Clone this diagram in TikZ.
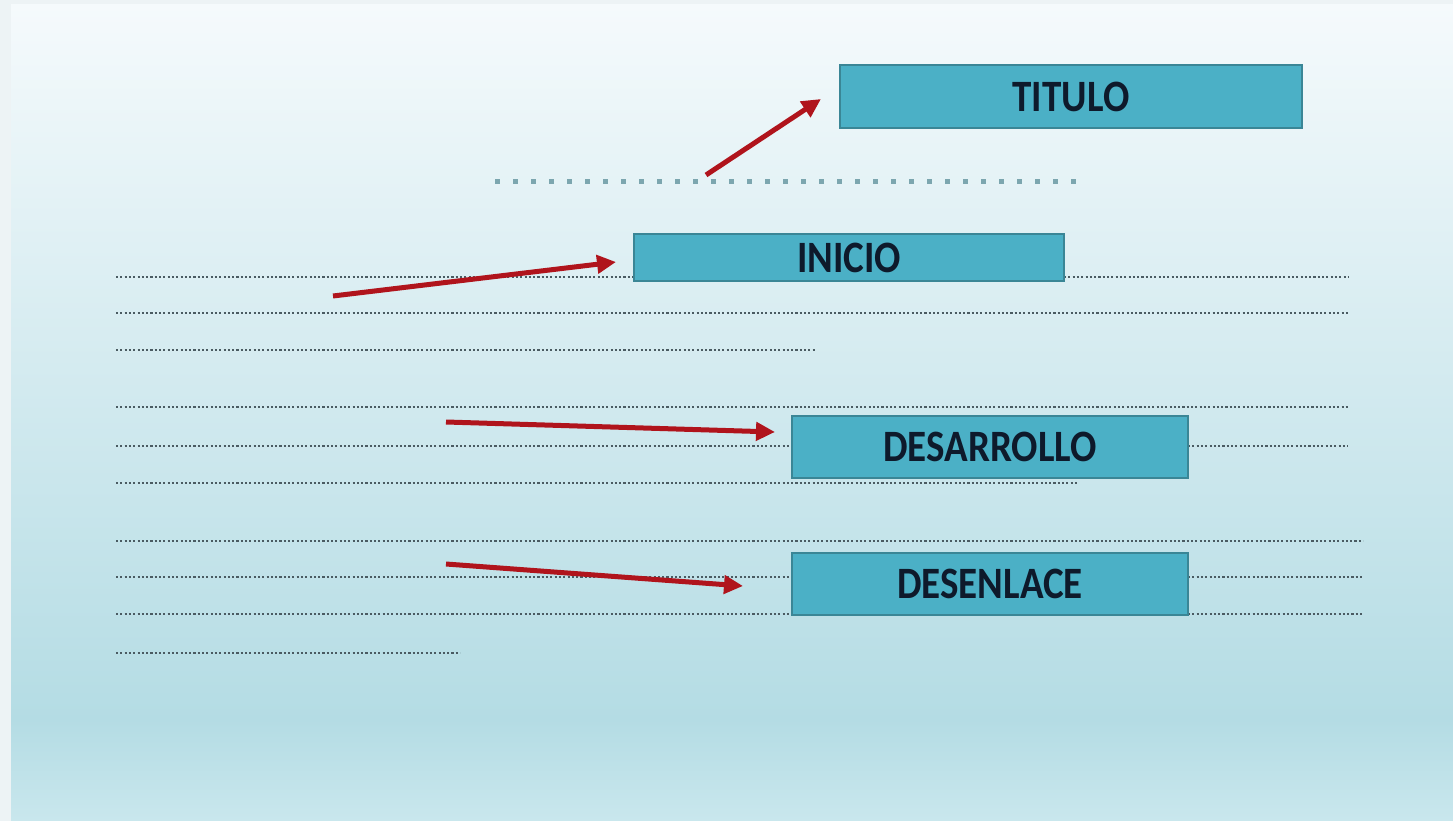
\documentclass[tikz,border=0pt]{standalone}
\usepackage{fontspec}
\setmainfont{Carlito}
\usetikzlibrary{arrows.meta}
\definecolor{frame}{HTML}{EDF3F5}
\definecolor{bgtop}{HTML}{F5FAFC}
\definecolor{bgmid}{HTML}{B4DCE4}
\definecolor{bgbot}{HTML}{C9E7ED}
\definecolor{boxfill}{HTML}{4BB0C6}
\definecolor{boxline}{HTML}{3A8696}
\definecolor{txt}{HTML}{0E1A2B}
\definecolor{arrowred}{HTML}{B0141C}
\definecolor{dotdark}{HTML}{4A5B62}
\definecolor{dotteal}{HTML}{7CA6AF}
\tikzset{
  tbox/.style={draw=boxline, line width=1.2pt, fill=boxfill, inner sep=0pt,
    font=\fontsize{39}{39}\selectfont\bfseries, text=txt},
  redarrow/.style={draw=arrowred, line width=5pt, -{Triangle[length=19pt,width=18pt]}},
  textline/.style={draw=dotdark, line width=2.1pt, dash pattern=on 2.1pt off 2.2pt},
  bigdots/.style={draw=dotteal, line width=5pt, dash pattern=on 5pt off 13pt}
}
\newcommand{\tall}[1]{\scalebox{1}[1.15]{#1}}
\begin{document}
\begin{tikzpicture}[x=1pt,y=-1pt]
\useasboundingbox (0,0) rectangle (1453,821);
% background
\fill[frame] (0,0) rectangle (1453,821);
\shade[top color=bgtop, bottom color=bgmid] (11,5) rectangle (1453,720);
\shade[top color=bgmid, bottom color=bgbot] (11,719.5) rectangle (1453,821);

% dotted text lines
\draw[textline] (116,277) -- (634,277);
\draw[textline] (1064,277) -- (1348,277);
\draw[textline] (116,313) -- (1348,313);
\draw[textline] (116,350) -- (815,350);
\draw[textline] (116,407) -- (1348,407);
\draw[textline] (116,446) -- (792,446);
\draw[textline] (1188,446) -- (1348,446);
\draw[textline] (116,483) -- (1078,483);
\draw[textline] (116,541) -- (1363,541);
\draw[textline] (116,577) -- (792,577);
\draw[textline] (1188,577) -- (1363,577);
\draw[textline] (116,614) -- (792,614);
\draw[textline] (1188,614) -- (1363,614);
\draw[textline] (116,653) -- (460,653);

% title dotted line
\draw[bigdots] (495,182) -- (1080,182);

% boxes
\node[tbox, minimum width=462pt, minimum height=63pt] (titulo) at (1071,96.5) {\tall{TITULO}};
\node[tbox, minimum width=430pt, minimum height=47pt] (inicio) at (849,257.5) {\tall{INICIO}};
\node[tbox, minimum width=396pt, minimum height=62pt] (desarrollo) at (990,447) {\tall{DESARROLLO}};
\node[tbox, minimum width=396pt, minimum height=62pt] (desenlace) at (990,584) {\tall{DESENLACE}};

% arrow coordinates
\coordinate (a1s) at (706,175);
\coordinate (a1e) at (821,99);
\coordinate (a2s) at (333,296);
\coordinate (a2e) at (616,262);
\coordinate (a3s) at (446,422);
\coordinate (a3e) at (775,432);
\coordinate (a4s) at (446,564);
\coordinate (a4e) at (743,586);

\draw[redarrow] (a1s) -- (a1e);
\draw[redarrow] (a2s) -- (a2e);
\draw[redarrow] (a3s) -- (a3e);
\draw[redarrow] (a4s) -- (a4e);
\end{tikzpicture}
\end{document}
